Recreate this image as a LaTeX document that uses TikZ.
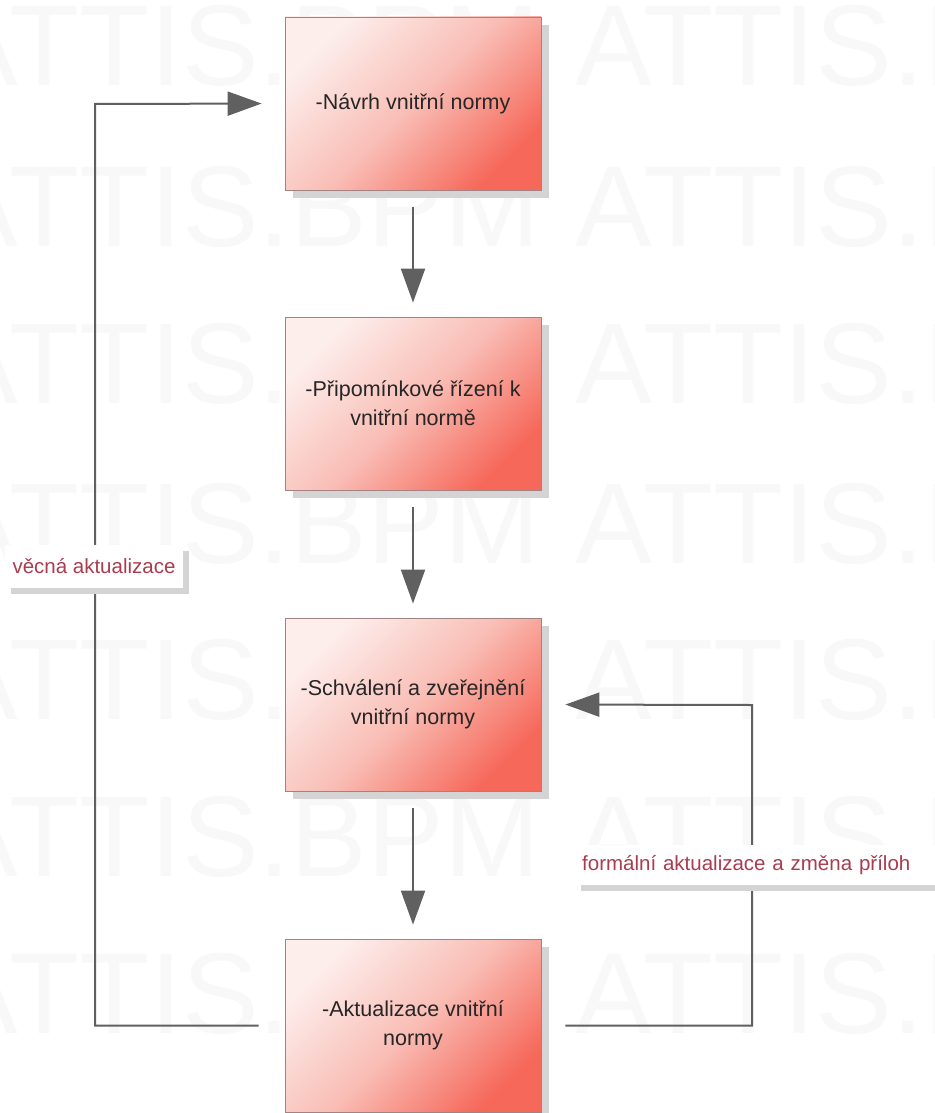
\documentclass[tikz,border=0pt]{standalone}
\usepackage{fontspec}
\setmainfont{Liberation Sans}
\usetikzlibrary{arrows.meta,shadows}
\definecolor{boxlight}{RGB}{253,238,236}
\definecolor{boxmid}{RGB}{249,190,182}
\definecolor{boxdark}{RGB}{246,104,90}
\definecolor{boxline}{RGB}{165,130,130}
\definecolor{conncol}{RGB}{96,96,96}
\definecolor{lbltext}{RGB}{170,60,80}
\definecolor{wmcol}{RGB}{248,248,248}
\definecolor{shadowcol}{RGB}{212,212,212}
\begin{document}
\begin{tikzpicture}[x=1pt,y=-1pt,
  stepbox/.style={draw=boxline, line width=0.8pt, minimum width=256pt, minimum height=173pt,
    top color=boxlight, bottom color=boxdark, middle color=boxmid, shading angle=45,
    align=center, text=black!85, font=\fontsize{21.5}{29}\selectfont,
    general shadow={fill=shadowcol, shadow xshift=8pt, shadow yshift=-8pt}},
  lbl/.style={fill=white, text=lbltext, font=\fontsize{20.5}{24}\selectfont,
    general shadow={fill=shadowcol, shadow xshift=6pt, shadow yshift=-6pt}},
  conn/.style={draw=conncol, line width=2pt},
  arr/.style={conn, -{Triangle[length=34pt,width=24pt]}},
  wm/.style={text=wmcol, font=\fontsize{115}{115}\selectfont, inner sep=0pt}]
\useasboundingbox (0,0) rectangle (934,1113);
\begin{scope}
\clip (0,0) rectangle (934,1113);
\foreach \r [count=\i] in {86,246,403,563,719,876,1033} {
  \node[wm, anchor=base east] (wmA\i) at (540,\r) {ATTIS.BPM};
  \node[wm, anchor=base west] (wmB\i) at (575,\r) {ATTIS.BPM};
}
\end{scope}

\node[stepbox] (b1) at (413,103.5) {-Návrh vnitřní normy};
\node[stepbox] (b2) at (413,403.5) {-Připomínkové řízení k\\vnitřní normě};
\node[stepbox] (b3) at (413,704.5) {-Schválení a zveřejnění\\vnitřní normy};
\node[stepbox] (b4) at (413,1025.5) {-Aktualizace vnitřní\\normy};

\coordinate (L) at (95,104);
\coordinate (R) at (752,705);

\draw[arr, shorten <=17pt, shorten >=14pt] (b1) -- (b2);
\draw[arr, shorten <=17pt, shorten >=14pt] (b2) -- (b3);
\draw[arr, shorten <=17pt, shorten >=14pt] (b3) -- (b4);
\draw[arr, shorten <=26pt, shorten >=23pt] (b4.west) -| (L) -- (b1.west);
\draw[arr, shorten <=24pt, shorten >=24pt] (b4.east) -| (R) -- (b3.east);

\node[lbl, minimum width=178pt, minimum height=43pt] (la) at (94,566.5) {věcná aktualizace};
\node[lbl, anchor=west, minimum height=40pt, text width=351pt, inner xsep=7pt, align=left] (lb) at (575,865) {formální aktualizace a změna příloh};
\end{tikzpicture}
\end{document}
